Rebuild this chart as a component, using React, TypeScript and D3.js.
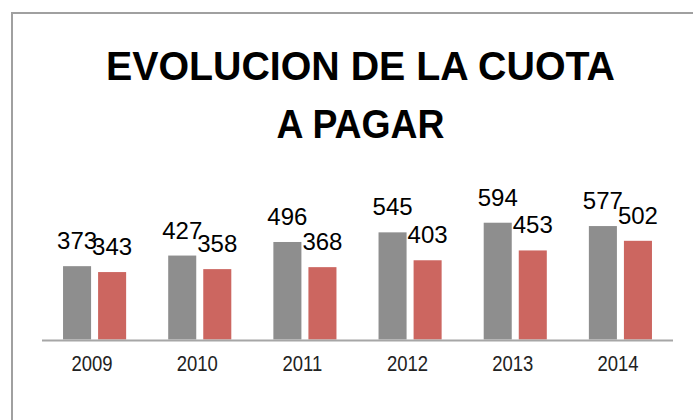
import React from "react";
import * as d3 from "d3";

const years = ["2009", "2010", "2011", "2012", "2013", "2014"];
const seriesKeys = ["cuota", "pagar"];
const cuotaValues = [373, 427, 496, 545, 594, 577];
const pagarValues = [343, 358, 368, 403, 453, 502];
const titleLines = ["EVOLUCION DE LA CUOTA", "A PAGAR"];
const seriesColors = ["#8e8e8e", "#cc6660"];

const W = 693;
const H = 420;
const titleWidths = [509, 168];

export default function App() {
  const x = d3.scaleBand<string>().domain(years).range([42, 673]).paddingInner(0.4).paddingOuter(0.2);
  const xs = d3.scaleBand<string>().domain(seriesKeys).range([0, x.bandwidth()]).paddingInner(0.2).paddingOuter(0);
  const y = d3.scaleLinear().domain([0, 700]).range([339.5, 339.5 - 700 * 0.1966]);
  const seriesData = [cuotaValues, pagarValues];

  return (
    <svg width={W} height={H} style={{ position: "absolute", left: 0, top: 0, display: "block", background: "#fff" }}>
      <path d={`M12,${H + 5} L12,13 L${W + 5},13`} fill="none" stroke="#a0a0a0" strokeWidth={2} />
      {titleLines.map((t, i) => (
        <text key={t} x={360.5} y={80 + i * 58} textAnchor="middle" textLength={titleWidths[i]} lengthAdjust="spacingAndGlyphs" fontFamily="'Liberation Sans', Arial, sans-serif" fontWeight="bold" fontSize={40} fill="#000">
          {t}
        </text>
      ))}
      {years.map((yr, i) => (
        <g key={yr} transform={`translate(${x(yr)},0)`}>
          {seriesKeys.map((k, s) => {
            const v = seriesData[s][i];
            const bx = xs(k)!;
            const bw = xs.bandwidth();
            return (
              <g key={k}>
                <rect x={bx} y={y(v)} width={bw} height={y(0) - y(v)} fill={seriesColors[s]} />
                <text x={bx + bw / 2} y={y(v) - 17} textAnchor="middle" fontFamily="'Liberation Sans', Arial, sans-serif" fontSize={24} fill="#000">
                  {v}
                </text>
              </g>
            );
          })}
        </g>
      ))}
      <line x1={42} x2={673} y1={340.5} y2={340.5} stroke="#a6a6a6" strokeWidth={2} />
      {years.map((yr) => {
        const cx = x(yr)! + x.bandwidth() / 2 - 2.5;
        return (
          <text key={yr} transform={`translate(${cx},370.5) scale(0.84,1)`} textAnchor="middle" fontFamily="'Liberation Sans', Arial, sans-serif" fontSize={22} fill="#222">
            {yr}
          </text>
        );
      })}
    </svg>
  );
}
